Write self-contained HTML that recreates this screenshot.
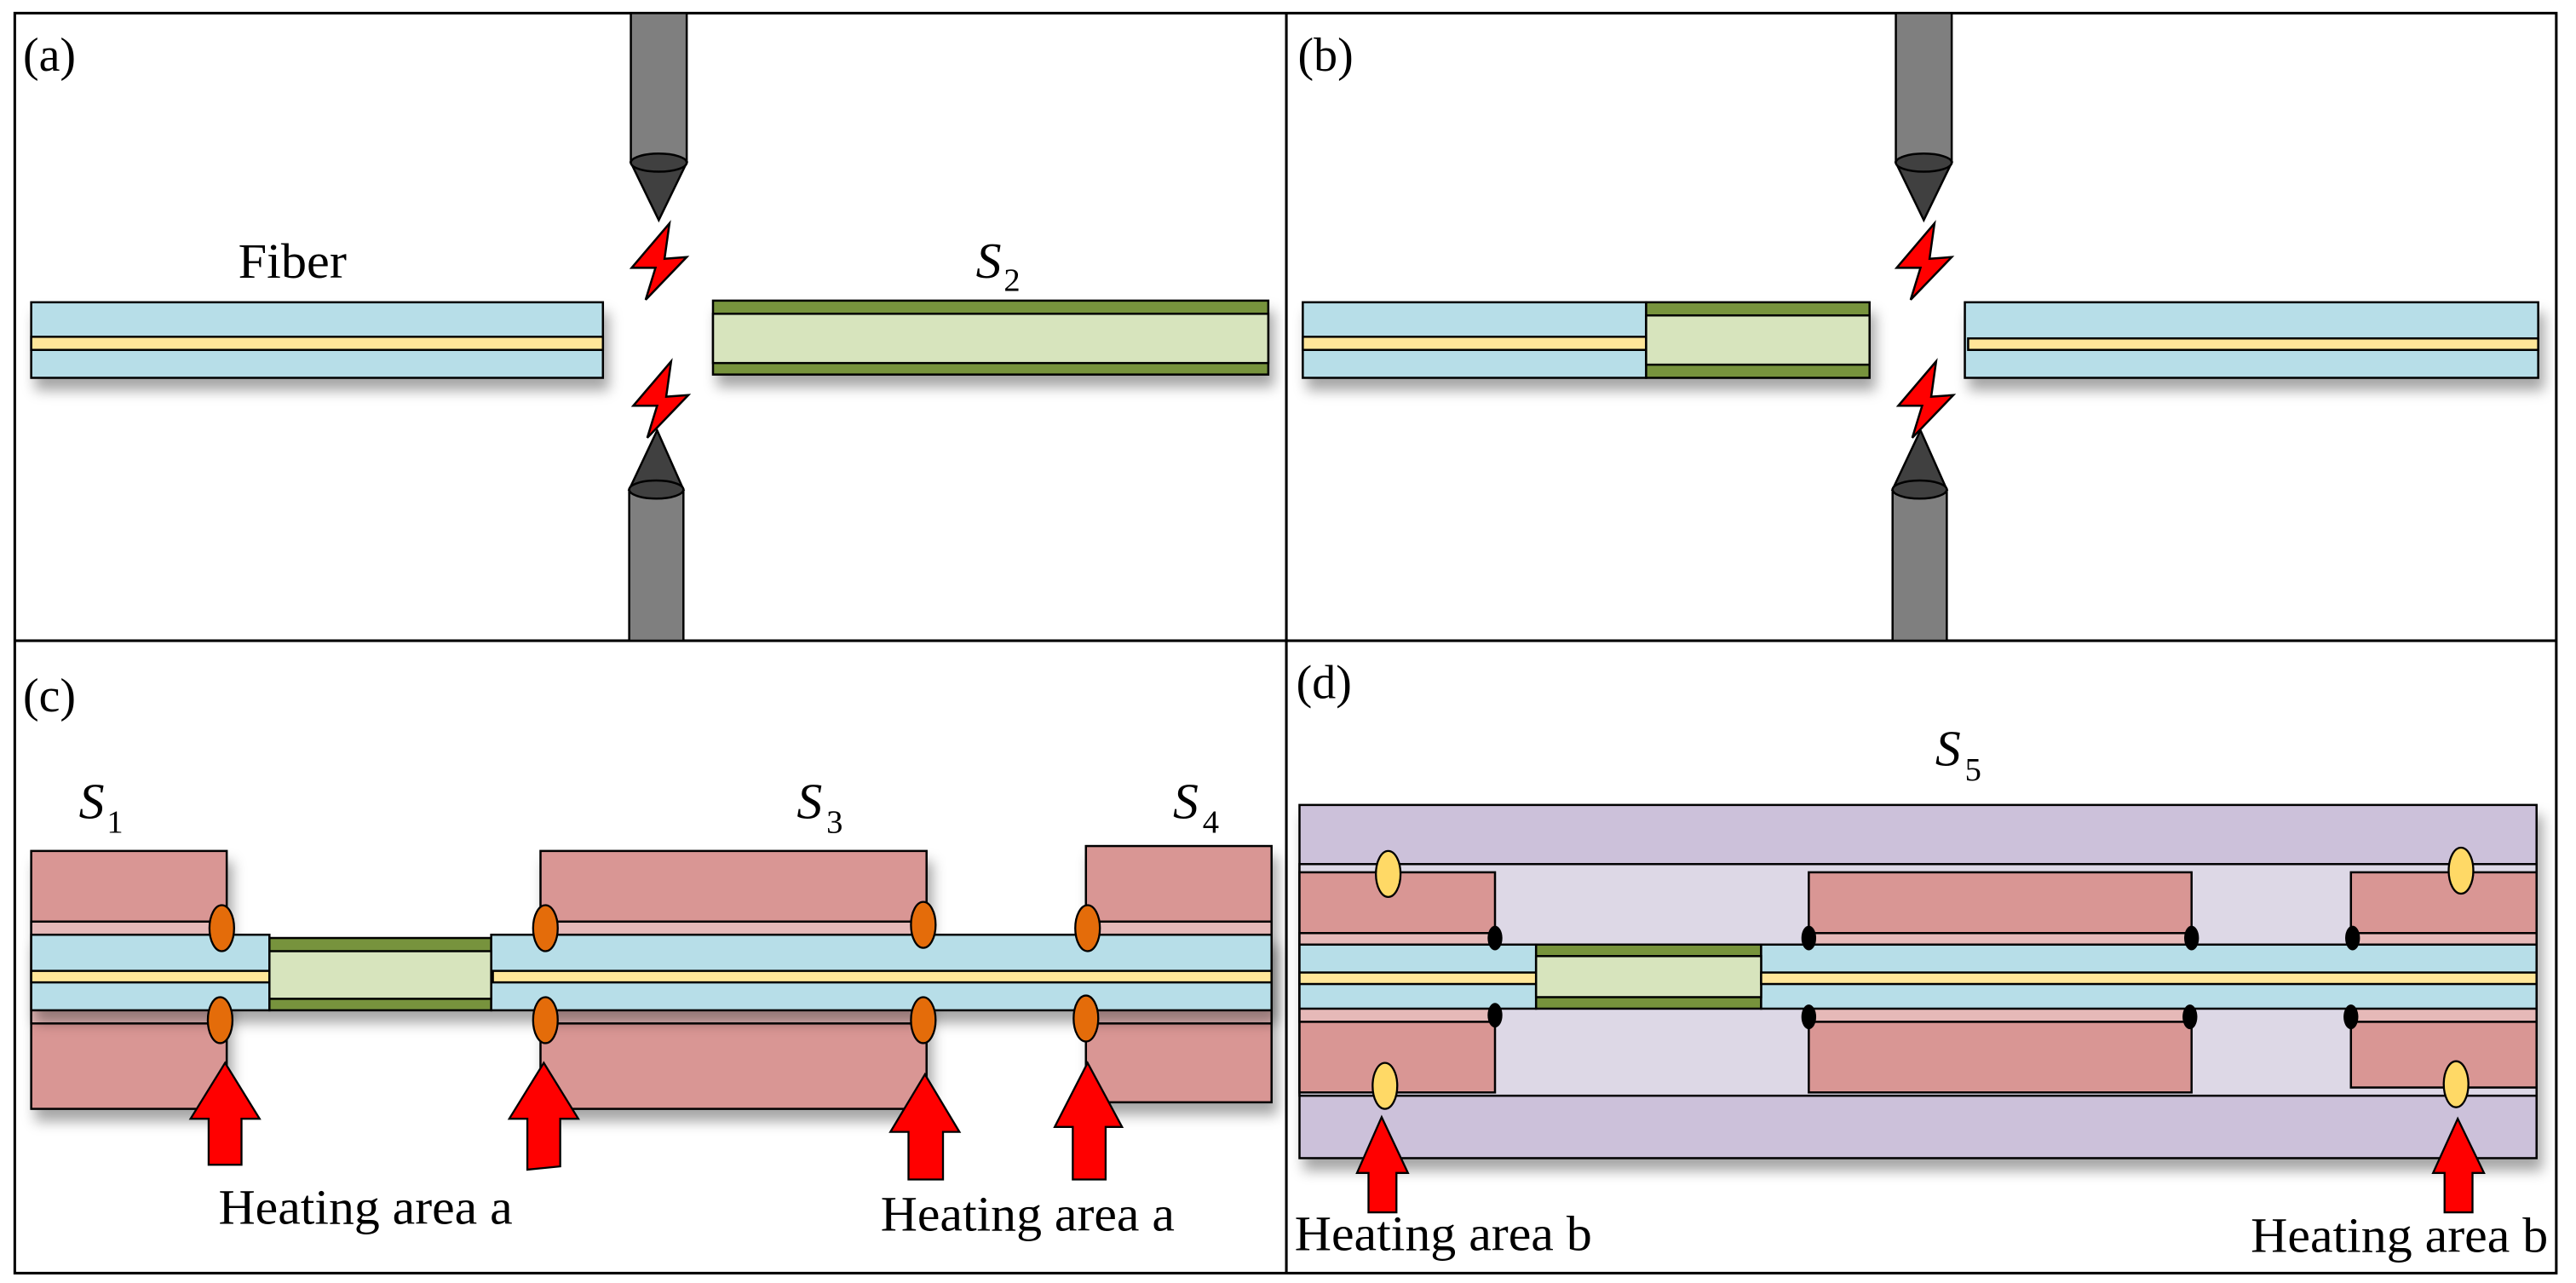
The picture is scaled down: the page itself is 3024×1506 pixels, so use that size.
<!DOCTYPE html>
<html><head><meta charset="utf-8"><style>html,body{margin:0;padding:0;background:#fff}svg{display:block}</style></head>
<body>
<svg width="3024" height="1506" viewBox="0 0 1568 781" preserveAspectRatio="none" xmlns="http://www.w3.org/2000/svg" style="font-family:'Times New Roman','Liberation Serif',Tinos,serif">
<defs>
<filter id="sh" x="-5%" y="-20%" width="115%" height="160%"><feDropShadow dx="3" dy="7" stdDeviation="4" flood-color="#000" flood-opacity="0.35"/></filter>
<g id="bolt"><polygon points="7.5,-22 -15.5,5 -1,5 -7,24.5 18,-1.5 4.5,-0.5" fill="#ff0000" stroke="#000" stroke-width="1.3" stroke-linejoin="miter"/></g>
</defs>
<rect width="1568" height="781" fill="#fff"/>
<g stroke="#000" stroke-width="1.6" fill="none">
<rect x="9" y="8" width="1547" height="767"/>
<line x1="783" y1="8" x2="783" y2="775"/>
<line x1="9" y1="390" x2="1556" y2="390"/>
</g>
<g font-size="29" fill="#000" style="font-family:'Times New Roman','Liberation Serif',serif">
<text x="14" y="43">(a)</text>
<text x="790" y="43">(b)</text>
<text x="14" y="433">(c)</text>
<text x="789" y="425">(d)</text>
</g>

<!-- Panel a -->
<g stroke="#000" stroke-width="1.3">
<rect x="384" y="8" width="34" height="91" fill="#7f7f7f"/>
<polygon points="384,99 418,99 401,134" fill="#404040"/>
<ellipse cx="401" cy="99" rx="17" ry="5.5" fill="#404040"/>
<rect x="383" y="298" width="33" height="92" fill="#7f7f7f"/>
<polygon points="383,298 416,298 400,262" fill="#404040"/>
<ellipse cx="399.5" cy="298" rx="16.5" ry="5.5" fill="#404040"/>
</g>
<use href="#bolt" x="400" y="158"/>
<use href="#bolt" x="401" y="242"/>
<g stroke="#000" stroke-width="1.3" filter="url(#sh)">
<rect x="19" y="184" width="348" height="46" fill="#b7dee8"/>
</g>
<rect x="19" y="205" width="348" height="8" fill="#ffe699" stroke="#000" stroke-width="1.3"/>
<g stroke="#000" stroke-width="1.3" filter="url(#sh)">
<rect x="434" y="183" width="338" height="45" fill="#77933c"/>
</g>
<rect x="434" y="191" width="338" height="30" fill="#d7e4bd" stroke="#000" stroke-width="1.3"/>
<g fill="#000" style="font-family:'Times New Roman','Liberation Serif',serif">
<text x="145" y="169" font-size="30" textLength="66" lengthAdjust="spacingAndGlyphs">Fiber</text>
<text x="594" y="169" font-size="31" font-style="italic">S</text><text x="611" y="177" font-size="20">2</text>
</g>

<!-- Panel b -->
<g stroke="#000" stroke-width="1.3">
<rect x="1154" y="8" width="34" height="91" fill="#7f7f7f"/>
<polygon points="1154,99 1188,99 1171,134" fill="#404040"/>
<ellipse cx="1171" cy="99" rx="17" ry="5.5" fill="#404040"/>
<rect x="1152" y="298" width="33" height="92" fill="#7f7f7f"/>
<polygon points="1152,298 1185,298 1169,262" fill="#404040"/>
<ellipse cx="1168.5" cy="298" rx="16.5" ry="5.5" fill="#404040"/>
</g>
<use href="#bolt" x="1170" y="158"/>
<use href="#bolt" x="1171" y="242"/>
<g stroke="#000" stroke-width="1.3" filter="url(#sh)">
<rect x="793" y="184" width="209" height="46" fill="#b7dee8"/>
<rect x="1002" y="184" width="136" height="46" fill="#77933c"/>
<rect x="1196" y="184" width="349" height="46" fill="#b7dee8"/>
</g>
<g stroke="#000" stroke-width="1.3">
<rect x="793" y="205" width="209" height="8" fill="#ffe699"/>
<rect x="1002" y="192" width="136" height="30" fill="#d7e4bd"/>
<rect x="1198" y="206" width="347" height="7" fill="#ffe699"/>
</g>

<!-- Panel c -->
<g stroke="#000" stroke-width="1.3" filter="url(#sh)">
<rect x="19" y="518" width="119" height="157" fill="#d99694"/>
<rect x="329" y="518" width="235" height="157" fill="#d99694"/>
<rect x="661" y="515" width="113" height="156" fill="#d99694"/>
</g>
<g stroke="#000" stroke-width="1.3">
<rect x="19" y="561" width="119" height="62" fill="#e6b9b8"/>
<rect x="329" y="561" width="235" height="62" fill="#e6b9b8"/>
<rect x="661" y="561" width="113" height="62" fill="#e6b9b8"/>
</g>
<g stroke="#000" stroke-width="1.3" filter="url(#sh)">
<rect x="19" y="569" width="145" height="46" fill="#b7dee8"/>
<rect x="164" y="571" width="135" height="44" fill="#77933c"/>
<rect x="299" y="569" width="475" height="46" fill="#b7dee8"/>
</g>
<g stroke="#000" stroke-width="1.3">
<rect x="19" y="591" width="145" height="7" fill="#ffe699"/>
<rect x="164" y="579" width="135" height="29" fill="#d7e4bd"/>
<rect x="300" y="591" width="474" height="7" fill="#ffe699"/>
</g>
<g fill="#e46c0a" stroke="#000" stroke-width="1.2">
<ellipse cx="135" cy="565" rx="7.5" ry="14"/><ellipse cx="134" cy="621" rx="7.5" ry="14"/>
<ellipse cx="332" cy="565" rx="7.5" ry="14"/><ellipse cx="332" cy="621" rx="7.5" ry="14"/>
<ellipse cx="562" cy="563" rx="7.5" ry="14"/><ellipse cx="562" cy="621" rx="7.5" ry="14"/>
<ellipse cx="662" cy="565" rx="7.5" ry="14"/><ellipse cx="661" cy="620" rx="7.5" ry="14"/>
</g>
<g fill="#ff0000" stroke="#000" stroke-width="1.2">
<polygon points="137,647 158,681 147,681 147,709 127,709 127,681 116,681"/>
<polygon points="331,647 352,681 341,681 341,710 321,712 321,681 310,681"/>
<polygon points="563,654 584,689 574,689 574,718 553,718 553,689 542,689"/>
<polygon points="662,647 683,686 673,686 673,718 653,718 653,686 642,686"/>
</g>
<g fill="#000" style="font-family:'Times New Roman','Liberation Serif',serif">
<text x="48" y="498" font-size="31" font-style="italic">S</text><text x="65" y="507" font-size="20">1</text>
<text x="485" y="498" font-size="31" font-style="italic">S</text><text x="503" y="507" font-size="20">3</text>
<text x="714" y="498" font-size="31" font-style="italic">S</text><text x="732" y="507" font-size="20">4</text>
<text x="133" y="745" font-size="30" textLength="179" lengthAdjust="spacingAndGlyphs">Heating area a</text>
<text x="536" y="749" font-size="30" textLength="179" lengthAdjust="spacingAndGlyphs">Heating area a</text>
</g>

<!-- Panel d -->
<g stroke="#000" stroke-width="1.3">
<rect x="791" y="490" width="753" height="215" fill="#ccc1da" filter="url(#sh)"/>
<rect x="791" y="526" width="753" height="141" fill="#ddd8e6"/>
<rect x="791" y="531" width="119" height="134" fill="#d99694"/>
<rect x="1101" y="531" width="233" height="134" fill="#d99694"/>
<rect x="1431" y="531" width="113" height="131" fill="#d99694"/>
<rect x="791" y="568" width="119" height="54" fill="#e6b9b8"/>
<rect x="1101" y="568" width="233" height="54" fill="#e6b9b8"/>
<rect x="1431" y="568" width="113" height="54" fill="#e6b9b8"/>
<rect x="791" y="575" width="144" height="39" fill="#b7dee8"/>
<rect x="935" y="575" width="137" height="39" fill="#77933c"/>
<rect x="1072" y="575" width="472" height="39" fill="#b7dee8"/>
<rect x="791" y="592" width="144" height="7" fill="#ffe699"/>
<rect x="935" y="582" width="137" height="25" fill="#d7e4bd"/>
<rect x="1072" y="592" width="472" height="7" fill="#ffe699"/>
</g>
<g fill="#000">
<ellipse cx="910" cy="571" rx="4.5" ry="7.5"/><ellipse cx="910" cy="618" rx="4.5" ry="7.5"/>
<ellipse cx="1101" cy="571" rx="4.5" ry="7.5"/><ellipse cx="1101" cy="619" rx="4.5" ry="7.5"/>
<ellipse cx="1334" cy="571" rx="4.5" ry="7.5"/><ellipse cx="1333" cy="619" rx="4.5" ry="7.5"/>
<ellipse cx="1432" cy="571" rx="4.5" ry="7.5"/><ellipse cx="1431" cy="619" rx="4.5" ry="7.5"/>
</g>
<g fill="#ffd966" stroke="#000" stroke-width="1.2">
<ellipse cx="845" cy="532" rx="7.5" ry="14"/><ellipse cx="1498" cy="530" rx="7.5" ry="14"/>
<ellipse cx="843" cy="661" rx="7.5" ry="14"/><ellipse cx="1495" cy="660" rx="7.5" ry="14"/>
</g>
<g fill="#ff0000" stroke="#000" stroke-width="1.2">
<polygon points="841,680 857,714 850,714 850,738 833,738 833,714 826,714"/>
<polygon points="1496,681 1512,714 1505,714 1505,738 1488,738 1488,714 1481,714"/>
</g>
<g fill="#000" style="font-family:'Times New Roman','Liberation Serif',serif">
<text x="1178" y="466" font-size="31" font-style="italic">S</text><text x="1196" y="475" font-size="20">5</text>
<text x="788" y="761" font-size="30" textLength="181" lengthAdjust="spacingAndGlyphs">Heating area b</text>
<text x="1370" y="762" font-size="30" textLength="181" lengthAdjust="spacingAndGlyphs">Heating area b</text>
</g>
</svg>
</body></html>
